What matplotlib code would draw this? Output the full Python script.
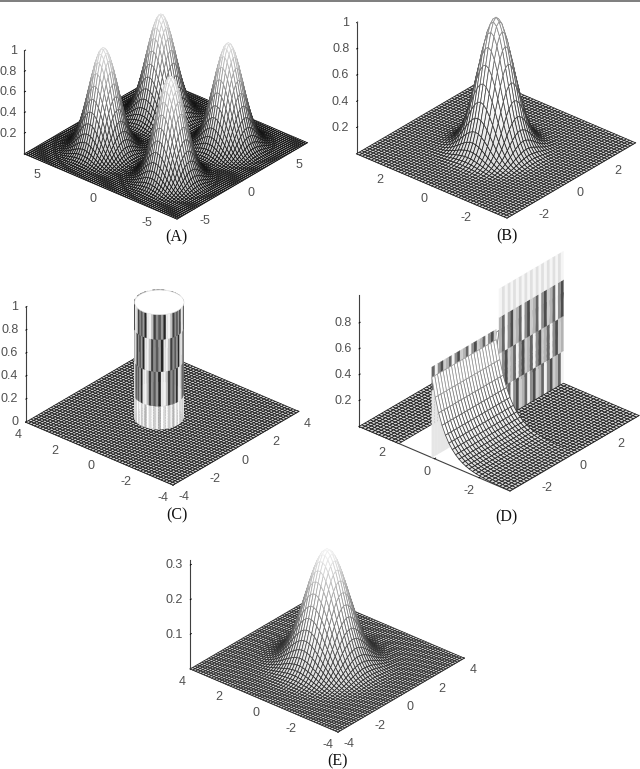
import numpy as np
import matplotlib
matplotlib.use("Agg")
import matplotlib.pyplot as plt
from matplotlib.patches import Rectangle
from mpl_toolkits.mplot3d import proj3d
from mpl_toolkits.mplot3d.art3d import Poly3DCollection

W, H = 640, 769
ELEV, AZIM = 30, -139.5

# ---- values ----
a_range = 6.8
a_peak_x = [-3.0, 3.0, -3.0, 3.0]
a_peak_y = [-3.0, -3.0, 3.0, 3.0]
a_sigma = 1.0
a_ticks = [-5, 0, 5]
a_zticks = [0.2, 0.4, 0.6, 0.8, 1.0]
a_zlabels = ['0.2', '0.4', '0.6', '0.8', '1']

b_range = 3.4
b_sigma = 0.62
b_ticks = [-2, 0, 2]
b_zticks = [0.2, 0.4, 0.6, 0.8, 1.0]
b_zlabels = ['0.2', '0.4', '0.6', '0.8', '1']

c_range = 4.0
c_radius = 1.02
c_height = 1.0
c_center = (-0.1, 0.1)
c_ticks = [-4, -2, 0, 2, 4]
c_zticks = [0, 0.2, 0.4, 0.6, 0.8, 1.0]
c_zlabels = ['0', '0.2', '0.4', '0.6', '0.8', '1']
c_band_edges = [0.0, 0.2, 0.5, 0.78, 1.0]
c_stripe_tones = [0.95, 0.55, 0.15, 0.75, 0.35, 0.9, 0.25, 0.6]
c_bottom_tones = [0.98, 0.8, 0.95, 0.7, 1.0, 0.85]

d_range = 3.4
d_ridge_height = 0.70
d_ridge_y = 0.12
d_scoop_height = 0.62
d_scoop_decay = 1.7
d_back_decay = 2.5
d_wall_height = 1.02
d_floor_start_y = 1.6
d_back_start_x = -1.3
d_ticks = [-2, 0, 2]
d_zticks = [0.2, 0.4, 0.6, 0.8]
d_zlabels = ['0.2', '0.4', '0.6', '0.8']
d_wall_bands = [0.0, 0.25, 0.52, 0.8, 1.02]
d_wall_tones = [0.8, 0.3, 0.55, 0.95, 0.4, 0.7]

e_range = 4.0
e_peak = 0.33
e_sigma = 0.9
e_ticks = [-4, -2, 0, 2, 4]
e_zticks = [0.1, 0.2, 0.3]
e_zlabels = ['0.1', '0.2', '0.3']

captions = ['(A)', '(B)', '(C)', '(D)', '(E)']
caption_pos = [(176, 237), (507, 236), (177, 515), (506, 517), (338, 761)]

# layout targets in image pixels: left, right, bottom corners, pixels per z range
targets = {
    'A': dict(left=(24, 155), right=(307, 143), bottom=(177, 219), ztop=1.0, zpx=103),
    'B': dict(left=(356, 154), right=(635, 143), bottom=(507, 218), ztop=1.0, zpx=131),
    'C': dict(left=(24, 423), right=(297, 412), bottom=(173, 485), ztop=1.0, zpx=115),
    'D': dict(left=(357, 427), right=(637, 415), bottom=(510, 491), ztop=1.02, zpx=132),
    'E': dict(left=(191, 667), right=(465, 656), bottom=(338, 732), ztop=0.315, zpx=109),
}

plt.rcParams['font.family'] = ['Liberation Sans', 'DejaVu Sans']
fig = plt.figure(figsize=(W / 100, H / 100), dpi=100, facecolor='white')
fig.add_artist(Rectangle((0, 1 - 2 / H), 1, 2 / H, transform=fig.transFigure,
                         facecolor='#808080', edgecolor='none'))


def lerp(a, b, t):
    return a + (b - a) * t


def grid_polys(x, y, z, face_low, edge_low, zmax, edge_high=0.85):
    """Mesh cells as polygons, toned by height; cells with NaN are left out."""
    polys, fc, ec = [], [], []
    for i in range(len(y) - 1):
        for j in range(len(x) - 1):
            zz = [z[i, j], z[i, j + 1], z[i + 1, j + 1], z[i + 1, j]]
            if not np.all(np.isfinite(zz)):
                continue
            polys.append([(x[j], y[i], zz[0]), (x[j + 1], y[i], zz[1]),
                          (x[j + 1], y[i + 1], zz[2]), (x[j], y[i + 1], zz[3])])
            t = min(max(np.mean(zz) / zmax, 0), 1)
            f = lerp(face_low, 1.0, min(t * 2.2, 1))
            e = lerp(edge_low, edge_high, t ** 1.3)
            fc.append((f, f, f, 1))
            ec.append((e, e, e, 1))
    return polys, fc, ec


def add_polys(ax, polys, fc, ec, lw=0.55, zorder=1):
    col = Poly3DCollection(polys, zsort='average', linewidths=lw)
    col.set_facecolor(fc)
    col.set_edgecolor(ec)
    col.set_clip_on(False)
    col.set_zorder(zorder)
    ax.add_collection3d(col)
    return col


def fit_axes(ax, rng, t):
    """Size and shift the axes so the box lands on the layout targets."""
    hz = 0.6
    s = 430 / W
    l, b = 0.1, 0.1
    for _ in range(6):
        ax.set_box_aspect((1, 1, hz), zoom=1.0)
        ax.set_position([l, b, s, s * W / H])
        ax.apply_aspect()
        M = ax.get_proj()

        def disp(px, py, pz):
            xs, ys, _ = proj3d.proj_transform(px, py, pz, M)
            return ax.transData.transform((xs, ys))
        pl = disp(-rng, rng, 0)
        pr = disp(rng, -rng, 0)
        pz = disp(-rng, rng, t['ztop'])
        width = pr[0] - pl[0]
        target_w = t['right'][0] - t['left'][0]
        zpx = pz[1] - pl[1]
        hz *= (t['zpx'] / target_w) / (zpx / width)
        s *= target_w / width
        ax.set_box_aspect((1, 1, hz), zoom=1.0)
        ax.set_position([l, b, s, s * W / H])
        ax.apply_aspect()
        M = ax.get_proj()
        pb = np.array(ax.transData.transform(proj3d.proj_transform(-rng, -rng, 0, M)[:2]))
        l += (t['bottom'][0] - pb[0]) / W
        b += ((H - t['bottom'][1]) - pb[1]) / H
    ax.set_position([l, b, s, s * W / H])


def make_axes(key, rng, ztop, ticks, zticks, zlabels):
    ax = fig.add_subplot(projection='3d', proj_type='ortho', computed_zorder=False)
    ax.view_init(elev=ELEV, azim=AZIM)
    ax.set_xlim(-rng, rng, view_margin=0)
    ax.set_ylim(-rng, rng, view_margin=0)
    ax.set_zlim(0, ztop, view_margin=0)
    ax.patch.set_visible(False)
    ax.grid(False)
    for axis in (ax.xaxis, ax.yaxis, ax.zaxis):
        axis.pane.set_visible(False)
        axis.line.set_color('#404040')
        axis.line.set_linewidth(0.8)
        axis._axinfo['tick']['inward_factor'] = 0.0
        axis._axinfo['tick']['outward_factor'] = 0.12
        axis._axinfo['tick']['linewidth'] = {True: 0.6, False: 0.4}
        axis._axinfo['tick']['color'] = '#404040'
    ax.set_xticks(ticks)
    ax.set_yticks(ticks)
    ax.set_zticks(zticks)
    ax.set_xticklabels([str(v) for v in ticks])
    ax.set_yticklabels([str(v) for v in ticks])
    ax.set_zticklabels(zlabels)
    ax.tick_params(axis='x', labelsize=9, labelcolor='#505050', pad=-4)
    ax.tick_params(axis='y', labelsize=9, labelcolor='#505050', pad=-4)
    ax.tick_params(axis='z', labelsize=9, labelcolor='#505050', pad=-5)
    for tick in ax.zaxis.get_major_ticks():
        tick.label1.set_ha('right')
        tick.label1.set_va('center')
    for tick in ax.xaxis.get_major_ticks():
        tick.label1.set_ha('left')
    for tick in ax.yaxis.get_major_ticks():
        tick.label1.set_ha('right')
    fit_axes(ax, rng, targets[key])
    return ax


# ---- panel A ----
ax = make_axes('A', a_range, 1.0, a_ticks, a_zticks, a_zlabels)
xa = np.linspace(-a_range, a_range, 71)
Xa, Ya = np.meshgrid(xa, xa)
Za = np.zeros_like(Xa)
for cx, cy in zip(a_peak_x, a_peak_y):
    Za = Za + np.exp(-((Xa - cx) ** 2 + (Ya - cy) ** 2) / (2 * a_sigma ** 2))
add_polys(ax, *grid_polys(xa, xa, Za, 0.75, 0.05, 1.0, edge_high=0.9))

# ---- panel B ----
ax = make_axes('B', b_range, 1.0, b_ticks, b_zticks, b_zlabels)
xb = np.linspace(-b_range, b_range, 51)
Xb, Yb = np.meshgrid(xb, xb)
Zb = np.exp(-(Xb ** 2 + Yb ** 2) / (2 * b_sigma ** 2))
add_polys(ax, *grid_polys(xb, xb, Zb, 0.85, 0.12, 1.0, edge_high=0.6))

# ---- panel C ----
ax = make_axes('C', c_range, 1.0, c_ticks, c_zticks, c_zlabels)
xc = np.linspace(-c_range, c_range, 51)
Zc = np.zeros((len(xc), len(xc)))
add_polys(ax, *grid_polys(xc, xc, Zc, 0.85, 0.1, 1.0), zorder=1)
n_seg = 64
ang = np.linspace(0, 2 * np.pi, n_seg + 1)
ccx = c_center[0] + c_radius * np.cos(ang)
ccy = c_center[1] + c_radius * np.sin(ang)
side, side_fc = [], []
for k in range(len(c_band_edges) - 1):
    z0, z1 = c_band_edges[k], c_band_edges[k + 1]
    for m in range(n_seg):
        side.append([(ccx[m], ccy[m], z0), (ccx[m + 1], ccy[m + 1], z0),
                     (ccx[m + 1], ccy[m + 1], z1), (ccx[m], ccy[m], z1)])
        if k == 0:
            g = c_bottom_tones[m % len(c_bottom_tones)]
        else:
            g = c_stripe_tones[(m * 3 + k * 5) % len(c_stripe_tones)]
        side_fc.append((g, g, g, 1))
add_polys(ax, side, side_fc, side_fc, lw=0.2, zorder=2)
top = [[(px, py, c_height) for px, py in zip(ccx, ccy)]]
add_polys(ax, top, [(1, 1, 1, 1)], [(0.88, 0.88, 0.88, 1)], lw=0.4, zorder=3)

# ---- panel D ----
ax = make_axes('D', d_range, d_wall_height, d_ticks, d_zticks, d_zlabels)
xd = np.linspace(-d_range, d_range, 47)
yd_back = np.linspace(d_floor_start_y, d_range, 13)
Zd = np.zeros((len(yd_back), len(xd)))
add_polys(ax, *grid_polys(xd, yd_back, Zd, 0.85, 0.1, 1.0), zorder=1)
xd_back = xd[xd >= d_back_start_x]
yd_slope = np.linspace(0, d_floor_start_y, 11)
Zs = np.outer(d_ridge_height * np.exp(-d_back_decay * yd_slope), np.ones(len(xd_back)))
add_polys(ax, *grid_polys(xd_back, yd_slope, Zs, 0.6, 0.05, 1.0), zorder=2)

wall, wall_fc = [], []
for k in range(len(d_wall_bands) - 1):
    for j in range(len(xd) - 1):
        x0, x1 = xd[j], xd[j + 1]
        left_part = x1 <= 0.01
        height = d_ridge_height if left_part else d_wall_height
        wy = d_ridge_y if left_part else 0.0
        z0, z1 = d_wall_bands[k], min(d_wall_bands[k + 1], height)
        if z0 >= height:
            continue
        g = d_wall_tones[(j * 5 + k * 2) % len(d_wall_tones)]
        if z0 >= 0.8:
            g = 0.88 + 0.08 * (j % 2)
        elif left_part and z1 < d_scoop_height:
            g = 0.9
        wall.append([(x0, wy, z0), (x1, wy, z0), (x1, wy, z1), (x0, wy, z1)])
        wall_fc.append((g, g, g, 1))
add_polys(ax, wall, wall_fc, wall_fc, lw=0.2, zorder=3)

xd_right = xd[xd >= -0.01]
yd_front = np.linspace(-d_range, 0, 24)
Zf = np.zeros((len(yd_front), len(xd_right)))
add_polys(ax, *grid_polys(xd_right, yd_front, Zf, 0.85, 0.1, 1.0), zorder=4)
xd_left = xd[xd <= 0.01]
yd_scoop = np.linspace(-d_range, d_ridge_y, 24)
Zc2 = np.outer(d_scoop_height * np.exp(d_scoop_decay * (yd_scoop - d_ridge_y)),
               np.ones(len(xd_left)))
polys, fc, ec = grid_polys(xd_left, yd_scoop, Zc2, 0.85, 0.12, 0.5, edge_high=0.6)
add_polys(ax, polys, fc, ec, zorder=5)

# ---- panel E ----
ax = make_axes('E', e_range, 0.315, e_ticks, e_zticks, e_zlabels)
xe = np.linspace(-e_range, e_range, 56)
Xe, Ye = np.meshgrid(xe, xe)
Ze = e_peak * np.exp(-(Xe ** 2 + Ye ** 2) / (2 * e_sigma ** 2))
add_polys(ax, *grid_polys(xe, xe, Ze, 0.85, 0.15, 0.33, edge_high=0.97))

for text, (cx, cy) in zip(captions, caption_pos):
    fig.text(cx / W, 1 - cy / H, text, ha='center', va='center', fontsize=11.5,
             family=['Liberation Serif', 'DejaVu Serif'], color='#111111')

fig.savefig('out.png', dpi=100, facecolor='white')
